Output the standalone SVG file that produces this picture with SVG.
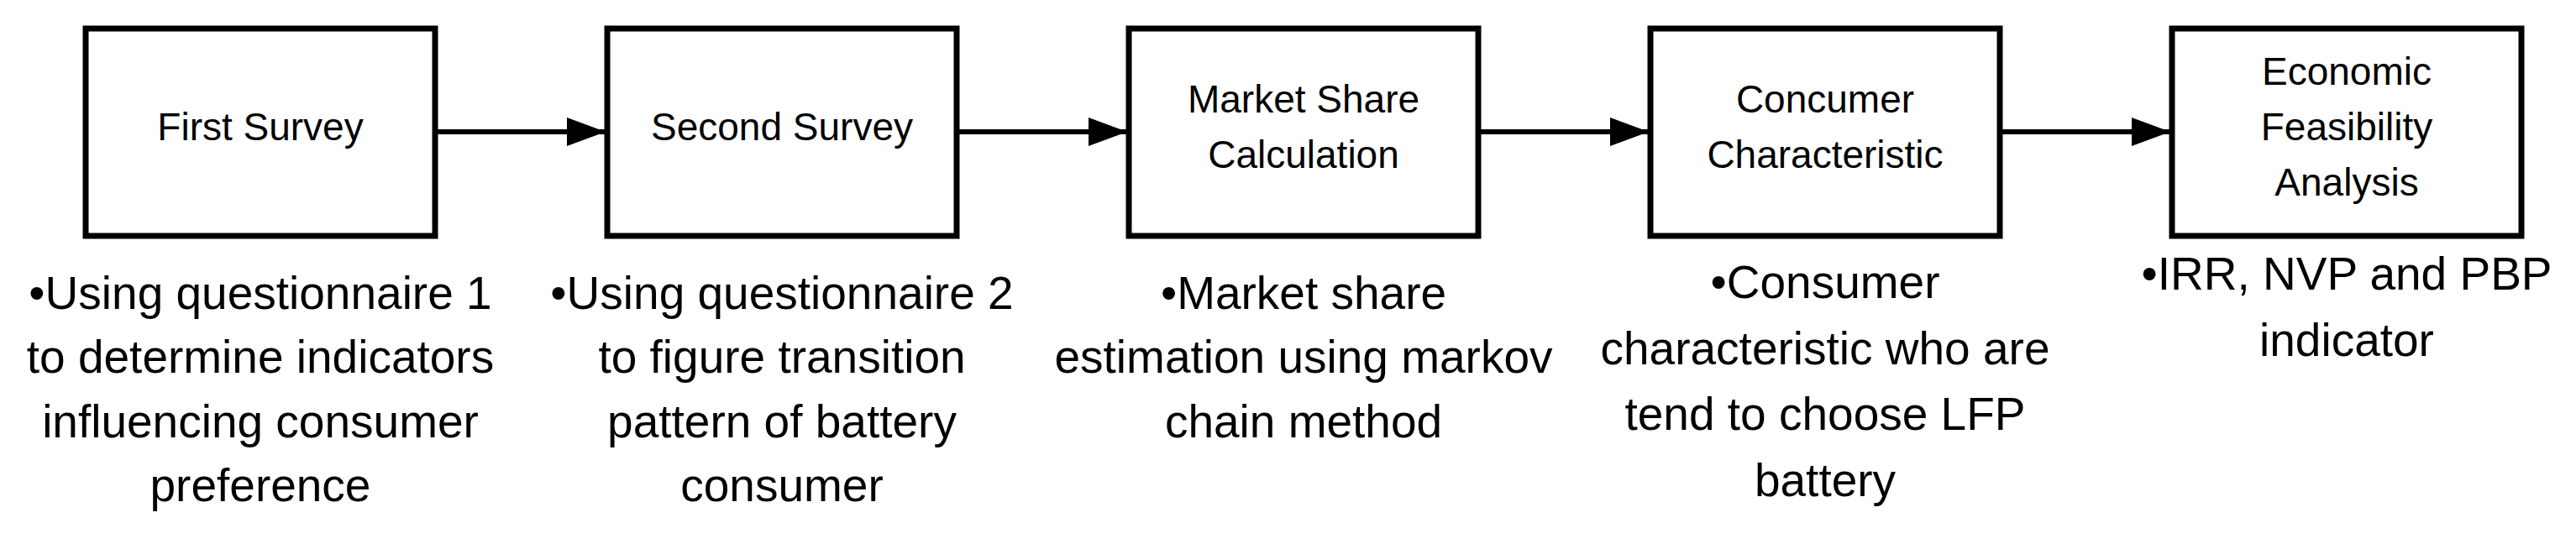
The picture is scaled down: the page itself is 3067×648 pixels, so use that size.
<svg xmlns="http://www.w3.org/2000/svg" width="3067" height="648" viewBox="0 0 3067 648">
<style>
.box{fill:#fff;stroke:#000;stroke-width:7}
.t{font-family:"Liberation Sans",Arial,sans-serif;font-size:46px;text-anchor:middle;fill:#000}
.b{font-family:"Liberation Sans",Arial,sans-serif;font-size:55px;text-anchor:middle;fill:#000}
.c{stroke:#000;stroke-width:6;fill:none}
</style>
<defs><marker id="ah" markerUnits="userSpaceOnUse" markerWidth="48" markerHeight="36" refX="46" refY="17" orient="auto"><path d="M0,0 L46,17 L0,34 Z" fill="#000"/></marker></defs>
<rect width="3067" height="648" fill="#fff"/>
<g id="connectors">
<line class="c" x1="519" y1="157" x2="721" y2="157" marker-end="url(#ah)"/>
<line class="c" x1="1140" y1="157" x2="1342" y2="157" marker-end="url(#ah)"/>
<line class="c" x1="1761" y1="157" x2="1963" y2="157" marker-end="url(#ah)"/>
<line class="c" x1="2382" y1="157" x2="2584" y2="157" marker-end="url(#ah)"/>
</g>
<g id="n1"><rect class="box" x="102" y="34" width="416" height="247"/>
<text class="t" x="310" y="167">First Survey</text>
<text class="b" x="310"><tspan x="310" y="368">•Using questionnaire 1</tspan><tspan x="310" y="444">to determine indicators</tspan><tspan x="310" y="521">influencing consumer</tspan><tspan x="310" y="597">preference</tspan></text></g>
<g id="n2"><rect class="box" x="723" y="34" width="416" height="247"/>
<text class="t" x="931" y="167">Second Survey</text>
<text class="b"><tspan x="931" y="368">•Using questionnaire 2</tspan><tspan x="931" y="444">to figure transition</tspan><tspan x="931" y="521">pattern of battery</tspan><tspan x="931" y="597">consumer</tspan></text></g>
<g id="n3"><rect class="box" x="1344" y="34" width="416" height="247"/>
<text class="t"><tspan x="1552" y="134">Market Share</tspan><tspan x="1552" y="200">Calculation</tspan></text>
<text class="b"><tspan x="1552" y="368">•Market share</tspan><tspan x="1552" y="444">estimation using markov</tspan><tspan x="1552" y="521">chain method</tspan></text></g>
<g id="n4"><rect class="box" x="1965" y="34" width="416" height="247"/>
<text class="t"><tspan x="2173" y="134">Concumer</tspan><tspan x="2173" y="200">Characteristic</tspan></text>
<text class="b"><tspan x="2173" y="355">•Consumer</tspan><tspan x="2173" y="434">characteristic who are</tspan><tspan x="2173" y="512">tend to choose LFP</tspan><tspan x="2173" y="591">battery</tspan></text></g>
<g id="n5"><rect class="box" x="2586" y="34" width="416" height="247"/>
<text class="t"><tspan x="2794" y="101">Economic</tspan><tspan x="2794" y="167">Feasibility</tspan><tspan x="2794" y="233">Analysis</tspan></text>
<text class="b"><tspan x="2794" y="345">•IRR, NVP and PBP</tspan><tspan x="2794" y="424">indicator</tspan></text></g>
</svg>
